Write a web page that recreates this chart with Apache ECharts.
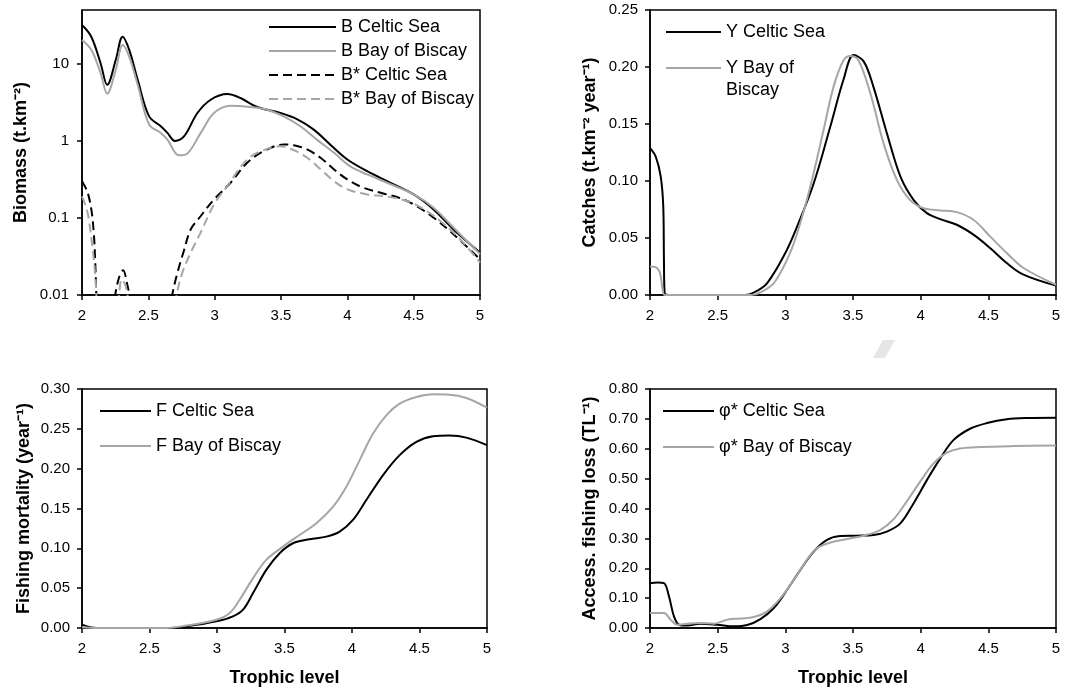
<!DOCTYPE html>
<html>
<head>
<meta charset="utf-8">
<script src="https://cdn.jsdelivr.net/npm/echarts@6/dist/echarts.min.js"></script>
<style>
  html, body { margin: 0; padding: 0; background: #fff; }
  #chart { width: 1077px; height: 693px; }
</style>
</head>
<body>
<div id="chart"></div>
<script>
// trophic level (x) and values
var tlBCeltic = [2.0,2.07,2.14,2.19,2.255,2.306,2.356,2.42,2.506,2.594,2.644,2.70,2.77,2.87,2.97,3.095,3.195,3.32,3.496,3.62,3.747,3.87,4.0,4.15,4.30,4.5,4.65,4.80,5.0];
var bCeltic = [31.9,22.5,10.2,5.35,11.3,22.5,15.2,6.2,2.08,1.55,1.27,1.0,1.15,2.3,3.42,4.05,3.6,2.75,2.3,1.92,1.4,0.90,0.574,0.405,0.30,0.202,0.129,0.071,0.0356];

var tlBBiscay = [2.0,2.07,2.14,2.19,2.255,2.306,2.356,2.42,2.506,2.594,2.644,2.73,2.794,2.895,2.995,3.12,3.27,3.396,3.52,3.646,3.77,3.90,4.02,4.15,4.30,4.5,4.65,4.80,5.0];
var bBiscay = [20.4,15.2,7.6,4.1,8.4,17.6,12.4,5.35,1.63,1.27,1.04,0.65,0.686,1.27,2.3,2.86,2.75,2.54,2.08,1.55,1.04,0.70,0.47,0.367,0.286,0.202,0.136,0.075,0.034];

// null = gap (curve drops under 0.01)
var tlBsCeltic = [2.0,2.04,2.07,2.09,2.10,2.106,2.112,2.18,2.235,2.25,2.28,2.31,2.34,2.36,2.375,2.5,2.665,2.68,2.72,2.764,2.82,2.895,2.995,3.12,3.245,3.37,3.52,3.596,3.70,3.80,3.90,4.0,4.12,4.27,4.40,4.52,4.65,4.80,5.0];
var bsCeltic = [0.30,0.22,0.13,0.06,0.026,0.013,0.006,null,0.006,0.01,0.017,0.021,0.014,0.009,0.005,null,0.006,0.01,0.0196,0.0356,0.0713,0.106,0.174,0.286,0.52,0.735,0.897,0.88,0.77,0.60,0.426,0.316,0.247,0.208,0.18,0.143,0.101,0.0615,0.029];

var tlBsBiscay = [2.0,2.03,2.05,2.08,2.10,2.108,2.115,2.18,2.27,2.28,2.30,2.33,2.35,2.36,2.5,2.70,2.714,2.757,2.82,2.895,2.995,3.095,3.245,3.37,3.496,3.596,3.70,3.80,3.90,4.0,4.15,4.30,4.45,4.57,4.70,4.85,5.0];
var bsBiscay = [0.19,0.14,0.10,0.04,0.018,0.01,0.005,null,0.005,0.01,0.016,0.013,0.008,0.005,null,0.005,0.01,0.0196,0.0356,0.065,0.15,0.26,0.574,0.76,0.853,0.76,0.60,0.426,0.30,0.235,0.202,0.189,0.166,0.132,0.0914,0.053,0.0264];

var tlYCeltic = [2.0,2.042,2.079,2.098,2.103,2.108,2.15,2.7,2.77,2.866,3.0,3.087,3.21,3.333,3.43,3.505,3.58,3.65,3.75,3.85,3.947,4.046,4.144,4.267,4.39,4.513,4.636,4.76,5.0];
var yCeltic = [0.1288,0.1215,0.104,0.0777,0.031,0.0018,0,0,0.0023,0.0105,0.0368,0.060,0.098,0.148,0.189,0.2106,0.2047,0.183,0.142,0.104,0.0835,0.0718,0.0666,0.0616,0.0529,0.0412,0.028,0.0178,0.0082];

var tlYBiscay = [2.0,2.042,2.074,2.093,2.108,2.15,2.75,2.816,2.915,3.013,3.087,3.185,3.283,3.357,3.43,3.48,3.54,3.628,3.726,3.824,3.92,4.02,4.144,4.267,4.39,4.513,4.636,4.76,5.0];
var yBiscay = [0.0251,0.0245,0.0193,0.0047,0,0,0,0.0023,0.0105,0.031,0.054,0.0952,0.145,0.183,0.206,0.2097,0.206,0.177,0.133,0.101,0.0835,0.0762,0.0742,0.0727,0.066,0.0514,0.0368,0.0237,0.009];

var tlFCeltic = [2.0,2.106,2.625,2.773,2.995,3.118,3.193,3.267,3.365,3.464,3.563,3.686,3.81,3.909,4.007,4.106,4.23,4.353,4.477,4.6,4.723,4.847,5.0];
var fCeltic = [0.0042,0,0,0.002,0.0083,0.0146,0.023,0.0438,0.073,0.0939,0.1064,0.1114,0.1147,0.121,0.1356,0.1606,0.192,0.217,0.2337,0.2407,0.2416,0.239,0.2295];

var tlFBiscay = [2.0,2.106,2.625,2.773,2.995,3.094,3.168,3.267,3.365,3.489,3.612,3.736,3.86,3.958,4.057,4.156,4.254,4.353,4.477,4.6,4.723,4.847,5.0];
var fBiscay = [0.001,0,0,0.003,0.0104,0.0188,0.0355,0.0626,0.0855,0.1022,0.1168,0.1314,0.1523,0.1773,0.2107,0.244,0.267,0.2816,0.29,0.2933,0.2929,0.2887,0.2766];

var tlPhiCeltic = [2.0,2.054,2.103,2.14,2.177,2.214,2.275,2.374,2.497,2.62,2.718,2.816,2.915,3.013,3.111,3.21,3.308,3.406,3.53,3.652,3.75,3.85,3.947,4.046,4.144,4.242,4.365,4.49,4.636,4.78,5.0];
var phiCeltic = [0.150,0.152,0.150,0.106,0.039,0.011,0.008,0.0145,0.011,0.0056,0.01,0.030,0.0668,0.128,0.1947,0.256,0.295,0.308,0.309,0.3115,0.3227,0.350,0.417,0.495,0.567,0.629,0.667,0.686,0.699,0.703,0.704];

var tlPhiBiscay = [2.0,2.103,2.152,2.2,2.275,2.374,2.472,2.57,2.669,2.767,2.866,2.964,3.062,3.16,3.234,3.333,3.456,3.578,3.70,3.80,3.896,3.996,4.095,4.19,4.29,4.44,4.685,5.0];
var phiBiscay = [0.050,0.050,0.028,0.011,0.0145,0.0167,0.0145,0.028,0.032,0.0367,0.0556,0.100,0.161,0.228,0.267,0.286,0.298,0.309,0.328,0.364,0.423,0.490,0.551,0.586,0.601,0.606,0.609,0.611];

var xTicks = {min: 2, max: 5, interval: 0.5};
var biomassTicks = [0.01, 0.1, 1, 10];

function pairs(xs, ys) {
    return xs.map(function (x, i) { return [x, ys[i] == null ? '-' : ys[i]]; });
}

var BLACK = '#000000';
var GREY = '#a6a6a6';
var FONT = 'Liberation Sans, Arial, sans-serif';

function xAxis(idx, withName) {
    return {
        gridIndex: idx, type: 'value', min: xTicks.min, max: xTicks.max, interval: xTicks.interval,
        name: withName ? 'Trophic level' : '', nameLocation: 'middle', nameGap: 41,
        nameTextStyle: {fontSize: 18, fontWeight: 'bold', color: BLACK, fontFamily: FONT},
        axisLine: {lineStyle: {color: BLACK, width: 1.5}},
        axisTick: {show: true, length: 5, lineStyle: {color: BLACK, width: 1.5}},
        axisLabel: {fontSize: 15, color: BLACK, margin: 13, fontFamily: FONT},
        splitLine: {show: false}
    };
}

function yAxis(idx, name, gap, cfg) {
    var ax = {
        gridIndex: idx, type: 'value', name: name, nameLocation: 'middle', nameGap: gap,
        nameTextStyle: {fontSize: 18, fontWeight: 'bold', color: BLACK, fontFamily: FONT},
        axisLine: {show: true, lineStyle: {color: BLACK, width: 1.5}},
        axisTick: {show: true, length: 5, lineStyle: {color: BLACK, width: 1.5}},
        axisLabel: {fontSize: 15, color: BLACK, margin: 12, fontFamily: FONT,
            formatter: function (v) { return v.toFixed(2); }},
        splitLine: {show: false}
    };
    return Object.assign(ax, cfg);
}

function line(name, idx, xs, ys, color, dashed) {
    return {
        name: name, type: 'line', xAxisIndex: idx, yAxisIndex: idx,
        data: pairs(xs, ys), smooth: 0.35, showSymbol: false, symbol: 'none',
        connectNulls: false, clip: true,
        lineStyle: {color: color, width: 2, type: dashed ? [9, 5] : 'solid'},
        itemStyle: {color: color}
    };
}

function legend(names, left, top, itemWidth, gap, extra) {
    var lg = {
        data: names, left: left, top: top, orient: 'vertical', padding: 0,
        itemWidth: itemWidth, itemHeight: 14, itemGap: gap, selectedMode: false,
        itemStyle: {opacity: 0},
        textStyle: {fontSize: 18, color: BLACK, lineHeight: 22, fontFamily: FONT}
    };
    return Object.assign(lg, extra || {});
}

var grid = {show: true, borderColor: BLACK, borderWidth: 1.5, backgroundColor: 'transparent'};

var myChart = echarts.init(document.getElementById('chart'), null, {renderer: 'canvas'});
var option = {
    animation: false,
    backgroundColor: '#ffffff',
    textStyle: {fontFamily: FONT},
    grid: [
        Object.assign({left: 82, top: 10, width: 398, height: 285}, grid),
        Object.assign({left: 650, top: 10, width: 406, height: 285}, grid),
        Object.assign({left: 82, top: 389, width: 405, height: 239}, grid),
        Object.assign({left: 650, top: 389, width: 406, height: 239}, grid)
    ],
    xAxis: [xAxis(0, false), xAxis(1, false), xAxis(2, true), xAxis(3, true)],
    yAxis: [
        yAxis(0, 'Biomass (t.km⁻²)', 52, {type: 'log', logBase: 10, min: 0.01, max: 50,
            axisTick: {show: true, length: 5, customValues: biomassTicks, lineStyle: {color: BLACK, width: 1.5}},
            axisLabel: {fontSize: 15, color: BLACK, margin: 13, fontFamily: FONT, customValues: biomassTicks,
                formatter: function (v) { return String(+(+v).toPrecision(3)); }}}),
        yAxis(1, 'Catches (t.km⁻² year⁻¹)', 51, {min: 0, max: 0.25, interval: 0.05}),
        yAxis(2, 'Fishing mortality (year⁻¹)', 49, {min: 0, max: 0.30, interval: 0.05}),
        yAxis(3, 'Access. fishing loss (TL⁻¹)', 51, {min: 0, max: 0.80, interval: 0.10})
    ],
    legend: [
        legend(['B Celtic Sea', 'B Bay of Biscay', 'B* Celtic Sea', 'B* Bay of Biscay'], 268, 16, 67, 2),
        legend(['Y Celtic Sea'], 665, 21, 55, 0),
        legend(['Y Bay of Biscay'], 665, 35, 55, 0, {
            formatter: function () { return ' \nY Bay of\nBiscay'; }
        }),
        legend(['F Celtic Sea', 'F Bay of Biscay'], 99, 400, 51, 13),
        legend(['φ* Celtic Sea', 'φ* Bay of Biscay'], 662, 400, 51, 14)
    ],
    graphic: [{
        type: 'polygon', silent: true,
        shape: {points: [[873, 358], [883, 340], [895, 340], [885, 358]]},
        style: {fill: '#e6e6e6'}
    }],
    series: [
        line('B Celtic Sea', 0, tlBCeltic, bCeltic, BLACK, false),
        line('B Bay of Biscay', 0, tlBBiscay, bBiscay, GREY, false),
        line('B* Celtic Sea', 0, tlBsCeltic, bsCeltic, BLACK, true),
        line('B* Bay of Biscay', 0, tlBsBiscay, bsBiscay, GREY, true),
        line('Y Celtic Sea', 1, tlYCeltic, yCeltic, BLACK, false),
        line('Y Bay of Biscay', 1, tlYBiscay, yBiscay, GREY, false),
        line('F Celtic Sea', 2, tlFCeltic, fCeltic, BLACK, false),
        line('F Bay of Biscay', 2, tlFBiscay, fBiscay, GREY, false),
        line('φ* Celtic Sea', 3, tlPhiCeltic, phiCeltic, BLACK, false),
        line('φ* Bay of Biscay', 3, tlPhiBiscay, phiBiscay, GREY, false)
    ]
};
myChart.setOption(option);
</script>
</body>
</html>
